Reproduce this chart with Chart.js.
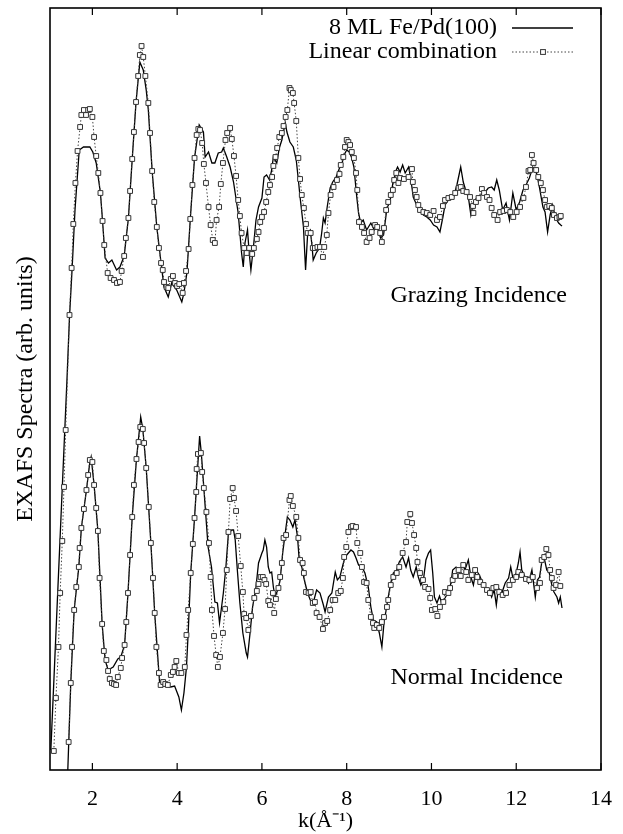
<!DOCTYPE html>
<html>
<head>
<meta charset="utf-8">
<script src="https://cdn.jsdelivr.net/npm/chart.js@4"></script>
<style>
  body { margin: 0; background: #fff; }
  canvas { display: block; }
</style>
</head>
<body>
<canvas id="chart" width="623" height="834"></canvas>
<script>
// k (1/Å) tick labels
const kTicks = [2, 4, 6, 8, 10, 12, 14];

// grazing incidence, measured 8 ML Fe/Pd(100) : [k, signal]
const grazingFe = [
  [1.02,0.20],[1.40,3.90],[1.46,4.53],[1.52,5.00],[1.59,5.60],[1.69,6.20],[1.79,6.23],[1.94,6.23],[2.01,6.18],
  [2.09,6.07],[2.19,5.77],[2.24,5.49],[2.30,5.12],[2.38,5.07],[2.46,5.10],[2.57,5.00],[2.65,5.03],[2.75,5.14],
  [2.85,5.52],[2.94,6.11],[3.03,6.68],[3.12,7.08],[3.20,7.00],[3.27,6.80],[3.32,6.60],[3.41,5.99],[3.52,5.43],
  [3.62,5.07],[3.69,4.83],[3.79,4.73],[3.87,4.87],[3.99,4.80],[4.11,4.68],[4.16,4.77],[4.23,4.97],[4.31,5.51],
  [4.41,6.12],[4.52,6.45],[4.62,6.38],[4.66,6.13],[4.74,6.18],[4.82,6.07],[4.89,6.07],[4.97,6.17],[5.05,6.18],
  [5.09,6.22],[5.17,6.13],[5.25,6.03],[5.33,5.88],[5.44,5.57],[5.52,5.17],[5.56,5.03],[5.60,5.27],[5.66,5.40],
  [5.70,5.17],[5.74,5.00],[5.80,5.23],[5.86,5.50],[5.92,5.63],[6.00,5.72],[6.05,5.93],[6.11,5.95],[6.18,5.90],
  [6.23,6.00],[6.27,6.13],[6.35,6.07],[6.41,6.22],[6.47,6.30],[6.55,6.47],[6.59,6.38],[6.66,6.28],[6.74,6.23],
  [6.81,6.10],[6.86,5.90],[6.90,5.73],[6.98,5.43],[7.03,5.00],[7.08,5.37],[7.14,5.40],[7.18,5.25],[7.21,5.10],
  [7.28,5.17],[7.36,5.22],[7.41,5.37],[7.45,5.52],[7.49,5.47],[7.54,5.63],[7.61,5.82],[7.67,5.88],[7.75,5.93],
  [7.83,6.02],[7.88,6.05],[7.94,6.15],[8.00,6.20],[8.06,6.18],[8.12,6.12],[8.17,6.03],[8.24,5.72],[8.28,5.57],
  [8.33,5.47],[8.39,5.50],[8.47,5.40],[8.57,5.47],[8.65,5.40],[8.72,5.43],[8.80,5.32],[8.87,5.35],[8.95,5.62],
  [9.02,5.68],[9.09,5.87],[9.17,6.00],[9.20,6.03],[9.26,5.98],[9.32,6.05],[9.38,5.97],[9.46,6.03],[9.51,5.92],
  [9.57,5.73],[9.65,5.65],[9.73,5.61],[9.81,5.55],[9.89,5.53],[9.97,5.50],[10.05,5.45],[10.13,5.43],[10.20,5.38],
  [10.27,5.53],[10.32,5.65],[10.40,5.70],[10.52,5.73],[10.60,5.85],[10.69,6.03],[10.75,5.88],[10.82,5.78],
  [10.87,5.73],[10.93,5.55],[10.99,5.67],[11.08,5.73],[11.16,5.75],[11.27,5.78],[11.34,5.82],[11.42,5.83],
  [11.48,5.80],[11.54,5.90],[11.60,5.80],[11.68,5.60],[11.76,5.67],[11.84,5.50],[11.92,5.77],[12.00,5.60],
  [12.08,5.68],[12.16,5.80],[12.23,5.85],[12.31,5.92],[12.39,6.03],[12.45,6.00],[12.49,5.95],[12.55,5.82],
  [12.63,5.63],[12.68,5.58],[12.74,5.38],[12.80,5.55],[12.86,5.65],[12.92,5.53],[13.00,5.47],[13.05,5.45],[13.08,5.44]
];

// grazing incidence, linear combination
const grazingLin = [
  [1.09,0.19],[1.14,0.72],[1.20,1.23],[1.24,1.77],[1.29,2.29],[1.33,2.83],[1.37,3.40],[1.46,4.55],[1.51,5.02],
  [1.55,5.46],[1.60,5.87],[1.65,6.19],[1.71,6.43],[1.74,6.55],[1.80,6.60],[1.85,6.55],[1.90,6.60],[1.94,6.61],
  [2.00,6.53],[2.04,6.33],[2.09,6.14],[2.14,5.97],[2.19,5.77],[2.24,5.49],[2.28,5.25],[2.36,4.97],[2.43,4.92],
  [2.51,4.90],[2.58,4.87],[2.65,4.88],[2.69,4.99],[2.75,5.14],[2.79,5.32],[2.85,5.52],[2.89,5.79],[2.94,6.11],
  [2.98,6.38],[3.03,6.68],[3.08,6.94],[3.12,7.15],[3.16,7.24],[3.20,7.13],[3.25,6.94],[3.32,6.67],[3.36,6.37],
  [3.41,5.99],[3.46,5.68],[3.52,5.43],[3.57,5.22],[3.62,5.07],[3.66,5.00],[3.69,4.88],[3.75,4.83],[3.79,4.82],
  [3.85,4.91],[3.90,4.94],[3.95,4.87],[4.00,4.84],[4.05,4.86],[4.13,4.77],[4.16,4.87],[4.21,4.99],[4.27,5.21],
  [4.31,5.51],[4.36,5.85],[4.41,6.12],[4.46,6.35],[4.50,6.41],[4.54,6.40],[4.59,6.27],[4.63,6.06],[4.68,5.87],
  [4.74,5.63],[4.79,5.45],[4.84,5.30],[4.89,5.27],[4.93,5.50],[4.99,5.63],[5.03,5.86],[5.08,6.07],[5.14,6.30],
  [5.18,6.37],[5.25,6.42],[5.29,6.31],[5.34,6.14],[5.39,5.94],[5.44,5.70],[5.48,5.54],[5.52,5.37],[5.58,5.22],
  [5.64,5.17],[5.70,5.22],[5.77,5.16],[5.81,5.22],[5.88,5.31],[5.92,5.38],[5.96,5.48],[6.00,5.53],[6.05,5.58],
  [6.10,5.68],[6.15,5.78],[6.19,5.85],[6.24,5.93],[6.27,6.04],[6.32,6.13],[6.36,6.22],[6.41,6.33],[6.47,6.37],
  [6.51,6.44],[6.56,6.53],[6.60,6.60],[6.65,6.82],[6.68,6.80],[6.73,6.77],[6.76,6.67],[6.81,6.49],[6.86,6.12],
  [6.90,5.91],[6.94,5.75],[6.99,5.62],[7.04,5.46],[7.08,5.37],[7.15,5.37],[7.20,5.22],[7.25,5.22],[7.31,5.23],
  [7.37,5.23],[7.44,5.13],[7.47,5.23],[7.53,5.35],[7.57,5.57],[7.62,5.75],[7.69,5.83],[7.77,5.90],[7.83,5.96],
  [7.86,6.05],[7.92,6.13],[7.96,6.23],[8.00,6.30],[8.04,6.28],[8.08,6.25],[8.12,6.18],[8.17,6.12],[8.22,5.97],
  [8.25,5.80],[8.29,5.48],[8.36,5.43],[8.41,5.37],[8.47,5.28],[8.54,5.32],[8.59,5.38],[8.67,5.45],[8.72,5.43],
  [8.79,5.37],[8.83,5.28],[8.88,5.42],[8.93,5.60],[8.98,5.68],[9.04,5.75],[9.09,5.80],[9.12,5.90],[9.17,5.97],
  [9.22,5.87],[9.26,5.92],[9.35,5.91],[9.46,5.93],[9.54,6.01],[9.56,5.88],[9.61,5.80],[9.65,5.73],[9.69,5.65],
  [9.73,5.60],[9.81,5.58],[9.89,5.57],[9.97,5.55],[10.05,5.59],[10.13,5.50],[10.20,5.53],[10.27,5.64],
  [10.32,5.70],[10.40,5.72],[10.48,5.73],[10.56,5.77],[10.64,5.82],[10.69,5.83],[10.75,5.79],[10.83,5.78],
  [10.91,5.73],[10.98,5.64],[10.99,5.57],[11.05,5.68],[11.11,5.72],[11.19,5.81],[11.24,5.77],[11.31,5.73],
  [11.37,5.70],[11.42,5.62],[11.48,5.55],[11.56,5.50],[11.62,5.58],[11.70,5.59],[11.78,5.60],[11.86,5.58],
  [11.93,5.53],[12.01,5.58],[12.09,5.63],[12.17,5.72],[12.23,5.83],[12.29,5.99],[12.33,6.00],[12.37,6.15],
  [12.41,6.07],[12.47,6.00],[12.52,5.93],[12.58,5.87],[12.63,5.80],[12.68,5.70],[12.72,5.63],[12.78,5.64],
  [12.84,5.62],[12.89,5.55],[12.96,5.52],[13.02,5.53],[13.05,5.54]
];

// normal incidence, measured 8 ML Fe/Pd(100)
const normalFe = [
  [1.42,0.00],[1.49,0.87],[1.57,1.60],[1.68,2.03],[1.74,2.42],[1.86,2.80],[1.94,3.08],[1.97,3.13],[2.04,2.85],
  [2.13,2.39],[2.23,1.46],[2.30,1.10],[2.37,1.00],[2.49,1.03],[2.60,1.11],[2.67,1.13],[2.76,1.25],[2.84,1.77],
  [2.94,2.53],[3.04,3.11],[3.14,3.53],[3.19,3.41],[3.27,3.02],[3.38,2.27],[3.47,1.57],[3.57,0.97],[3.59,0.85],
  [3.74,0.85],[3.85,0.83],[3.94,0.84],[4.04,0.73],[4.10,0.60],[4.16,0.77],[4.22,1.03],[4.26,1.37],[4.32,1.97],
  [4.41,2.52],[4.48,3.00],[4.53,3.34],[4.57,3.17],[4.65,2.70],[4.73,2.23],[4.81,2.03],[4.89,1.68],[4.95,1.67],
  [5.00,1.47],[5.09,1.77],[5.15,2.03],[5.21,2.37],[5.29,2.40],[5.33,2.40],[5.37,2.30],[5.42,2.00],[5.48,1.67],
  [5.55,1.37],[5.63,1.17],[5.66,1.13],[5.72,1.37],[5.78,1.63],[5.86,1.83],[5.92,2.07],[6.00,2.17],[6.03,2.20],
  [6.07,2.30],[6.11,2.23],[6.15,2.03],[6.19,1.97],[6.23,1.98],[6.27,1.83],[6.31,1.73],[6.39,1.82],[6.43,1.90],
  [6.49,2.17],[6.55,2.37],[6.60,2.53],[6.66,2.50],[6.73,2.43],[6.78,2.50],[6.84,2.33],[6.88,2.10],[6.94,2.03],
  [6.99,1.92],[7.07,1.78],[7.14,1.70],[7.21,1.67],[7.29,1.80],[7.37,1.77],[7.45,1.65],[7.49,1.58],[7.57,1.73],
  [7.65,1.77],[7.73,1.98],[7.78,1.90],[7.84,1.93],[7.91,2.05],[7.96,2.13],[8.04,2.17],[8.10,2.20],[8.16,2.18],
  [8.22,2.12],[8.28,2.05],[8.36,2.03],[8.43,1.97],[8.51,1.83],[8.57,1.63],[8.63,1.50],[8.71,1.48],[8.77,1.37],
  [8.83,1.23],[8.88,1.47],[8.93,1.60],[8.98,1.73],[9.04,1.87],[9.10,1.97],[9.18,2.00],[9.24,2.08],[9.32,2.13],
  [9.40,2.03],[9.46,2.12],[9.51,2.00],[9.57,1.93],[9.64,2.03],[9.69,1.93],[9.75,1.85],[9.81,1.90],[9.87,2.10],
  [9.93,2.17],[9.98,2.20],[10.03,1.97],[10.07,1.73],[10.13,1.67],[10.19,1.74],[10.24,1.67],[10.32,1.72],
  [10.40,1.78],[10.46,1.87],[10.50,2.00],[10.58,2.03],[10.66,2.00],[10.74,2.05],[10.79,2.00],[10.87,2.10],
  [10.93,1.93],[10.99,1.85],[11.05,2.00],[11.13,1.95],[11.21,1.87],[11.29,1.82],[11.37,1.80],[11.42,1.73],
  [11.48,1.80],[11.53,1.65],[11.58,1.82],[11.66,1.77],[11.74,1.87],[11.82,1.92],[11.87,2.03],[11.93,1.90],
  [12.00,1.97],[12.05,2.07],[12.09,2.18],[12.13,2.00],[12.21,1.93],[12.29,1.87],[12.37,2.00],[12.45,1.73],
  [12.50,1.90],[12.55,1.93],[12.60,2.07],[12.66,2.12],[12.72,2.00],[12.78,1.97],[12.84,1.85],[12.89,1.78],
  [12.96,1.73],[13.00,1.67],[13.04,1.73],[13.08,1.62]
];

// normal incidence, linear combination
const normalLin = [
  [1.44,0.28],[1.49,0.87],[1.52,1.23],[1.57,1.60],[1.62,1.83],[1.68,2.03],[1.70,2.22],[1.74,2.42],[1.80,2.61],
  [1.86,2.80],[1.90,2.95],[1.94,3.10],[2.00,3.08],[2.04,2.85],[2.09,2.62],[2.13,2.39],[2.17,1.92],[2.23,1.46],
  [2.27,1.19],[2.33,1.10],[2.37,0.99],[2.41,0.91],[2.46,0.87],[2.51,0.86],[2.56,0.85],[2.60,0.93],[2.67,1.02],
  [2.70,1.12],[2.76,1.25],[2.80,1.48],[2.84,1.77],[2.89,2.15],[2.94,2.53],[2.98,2.85],[3.04,3.11],[3.09,3.28],
  [3.13,3.43],[3.19,3.41],[3.22,3.27],[3.27,3.02],[3.33,2.63],[3.38,2.27],[3.43,1.92],[3.47,1.57],[3.51,1.23],
  [3.57,0.97],[3.61,0.85],[3.67,0.88],[3.72,0.86],[3.78,0.85],[3.85,0.95],[3.90,0.98],[3.94,1.03],[3.98,1.09],
  [4.04,0.97],[4.10,0.97],[4.18,1.03],[4.22,1.35],[4.26,1.60],[4.32,1.97],[4.37,2.26],[4.41,2.52],[4.45,2.78],
  [4.46,3.01],[4.49,3.16],[4.56,3.17],[4.59,2.98],[4.63,2.82],[4.69,2.58],[4.75,2.27],[4.79,1.93],[4.82,1.60],
  [4.87,1.34],[4.92,1.15],[4.96,1.03],[5.01,1.13],[5.08,1.37],[5.13,1.61],[5.17,2.00],[5.21,2.38],[5.25,2.71],
  [5.31,2.82],[5.34,2.72],[5.39,2.59],[5.44,2.34],[5.50,2.04],[5.55,1.78],[5.58,1.56],[5.63,1.52],[5.68,1.40],
  [5.74,1.54],[5.82,1.72],[5.88,1.79],[5.92,1.86],[5.97,1.93],[6.02,1.93],[6.06,1.90],[6.10,1.86],[6.15,1.69],
  [6.19,1.65],[6.26,1.77],[6.29,1.57],[6.33,1.71],[6.39,1.82],[6.43,1.93],[6.47,2.07],[6.51,2.32],[6.57,2.35],
  [6.65,2.70],[6.68,2.74],[6.73,2.64],[6.81,2.53],[6.86,2.32],[6.90,2.10],[6.96,2.07],[6.99,1.97],[7.04,1.78],
  [7.10,1.77],[7.15,1.78],[7.20,1.67],[7.25,1.68],[7.29,1.57],[7.36,1.53],[7.44,1.41],[7.49,1.47],[7.54,1.49],
  [7.61,1.60],[7.67,1.70],[7.73,1.70],[7.80,1.77],[7.86,1.79],[7.91,1.92],[7.94,2.13],[7.99,2.23],[8.04,2.38],
  [8.10,2.43],[8.14,2.44],[8.22,2.43],[8.25,2.27],[8.32,2.17],[8.36,2.03],[8.41,1.88],[8.47,1.87],[8.51,1.70],
  [8.57,1.53],[8.62,1.47],[8.65,1.42],[8.71,1.45],[8.77,1.42],[8.83,1.48],[8.88,1.53],[8.95,1.63],[8.98,1.70],
  [9.04,1.85],[9.10,1.93],[9.18,1.97],[9.24,2.03],[9.32,2.17],[9.40,2.28],[9.43,2.48],[9.50,2.56],[9.54,2.47],
  [9.59,2.35],[9.64,2.22],[9.67,2.08],[9.73,1.97],[9.80,1.90],[9.85,1.83],[9.93,1.81],[9.97,1.72],[10.01,1.60],
  [10.09,1.61],[10.14,1.54],[10.20,1.63],[10.28,1.68],[10.32,1.78],[10.40,1.77],[10.44,1.82],[10.50,1.90],
  [10.56,1.94],[10.64,2.00],[10.69,1.94],[10.75,2.05],[10.82,1.98],[10.87,1.90],[10.95,1.95],[11.03,2.00],
  [11.08,1.93],[11.15,1.88],[11.23,1.85],[11.31,1.80],[11.38,1.77],[11.46,1.82],[11.53,1.83],[11.60,1.78],
  [11.68,1.75],[11.76,1.77],[11.84,1.85],[11.92,1.90],[12.00,1.93],[12.05,1.98],[12.13,1.95],[12.23,1.91],
  [12.31,1.90],[12.39,1.93],[12.49,1.82],[12.56,1.87],[12.60,2.10],[12.66,2.13],[12.71,2.21],[12.76,2.15],
  [12.80,2.00],[12.84,1.92],[12.88,1.82],[12.94,1.85],[13.00,1.98],[13.04,1.84]
];

const FONT = "'Liberation Serif', 'Times New Roman', serif";
const toXY = arr => arr.map(p => ({ x: p[0], y: p[1] }));

const solidStyle = {
  borderColor: '#000', borderWidth: 1.3, pointRadius: 0, showLine: true, fill: false, tension: 0
};
const dottedStyle = {
  borderColor: '#444', borderWidth: 1, borderDash: [1.5, 2], showLine: true, fill: false, tension: 0,
  pointStyle: 'rect', pointRadius: 3.4, pointBorderColor: '#333', pointBackgroundColor: '#fff', pointBorderWidth: 1
};

// frame, inward ticks, legend and panel labels
const decorations = {
  id: 'decorations',
  afterDraw(chart) {
    const ctx = chart.ctx;
    const a = chart.chartArea;
    const xs = chart.scales.x;
    ctx.save();
    ctx.strokeStyle = '#000';
    ctx.lineWidth = 1.6;
    ctx.strokeRect(a.left, a.top, a.right - a.left, a.bottom - a.top);
    ctx.lineWidth = 1.2;
    kTicks.forEach(v => {
      const px = xs.getPixelForValue(v);
      ctx.beginPath();
      ctx.moveTo(px, a.bottom); ctx.lineTo(px, a.bottom - 7);
      ctx.moveTo(px, a.top); ctx.lineTo(px, a.top + 7);
      ctx.stroke();
    });

    ctx.fillStyle = '#000';
    ctx.font = '24px ' + FONT;
    ctx.textAlign = 'right';
    ctx.textBaseline = 'middle';
    ctx.fillText('8 ML Fe/Pd(100)', 497, 28);
    ctx.fillText('Linear combination', 497, 52);
    ctx.fillText('Grazing Incidence', 567, 296);
    ctx.fillText('Normal Incidence', 563, 678);

    ctx.lineWidth = 1.3;
    ctx.beginPath(); ctx.moveTo(512, 28); ctx.lineTo(573, 28); ctx.stroke();
    ctx.strokeStyle = '#444'; ctx.lineWidth = 1; ctx.setLineDash([1.5, 2]);
    ctx.beginPath(); ctx.moveTo(512, 52); ctx.lineTo(573, 52); ctx.stroke();
    ctx.setLineDash([]);
    ctx.fillStyle = '#fff'; ctx.strokeStyle = '#333';
    ctx.fillRect(540.6, 49.6, 4.8, 4.8); ctx.strokeRect(540.6, 49.6, 4.8, 4.8);
    ctx.restore();
  }
};

new Chart(document.getElementById('chart').getContext('2d'), {
  type: 'scatter',
  data: {
    datasets: [
      { label: 'Linear combination (grazing)', data: toXY(grazingLin), ...dottedStyle },
      { label: '8 ML Fe/Pd(100) (grazing)', data: toXY(grazingFe), ...solidStyle },
      { label: 'Linear combination (normal)', data: toXY(normalLin), ...dottedStyle },
      { label: '8 ML Fe/Pd(100) (normal)', data: toXY(normalFe), ...solidStyle }
    ]
  },
  options: {
    responsive: false,
    animation: false,
    devicePixelRatio: 1,
    layout: { padding: { top: 8, right: 22, left: 0, bottom: 0 } },
    plugins: { legend: { display: false }, tooltip: { enabled: false } },
    scales: {
      x: {
        type: 'linear', min: 1, max: 14,
        afterBuildTicks: s => { s.ticks = kTicks.map(v => ({ value: v })); },
        afterFit: s => { s.height = 64; s.paddingLeft = 0; s.paddingRight = 0; },
        grid: { display: false, drawTicks: false },
        border: { display: false },
        ticks: { color: '#000', padding: 16, maxRotation: 0, font: { family: FONT, size: 22 } },
        title: { display: true, text: 'k(Å⁻¹)', color: '#000', padding: 0, font: { family: FONT, size: 22 } }
      },
      y: {
        min: 0, max: 7.62,
        afterFit: s => { s.width = 50; },
        grid: { display: false, drawTicks: false },
        border: { display: false },
        ticks: { display: false },
        title: { display: true, text: 'EXAFS Spectra (arb. units)', color: '#000', padding: { top: 11, bottom: 0 }, font: { family: FONT, size: 24 } }
      }
    }
  },
  plugins: [decorations]
});
</script>
</body>
</html>
